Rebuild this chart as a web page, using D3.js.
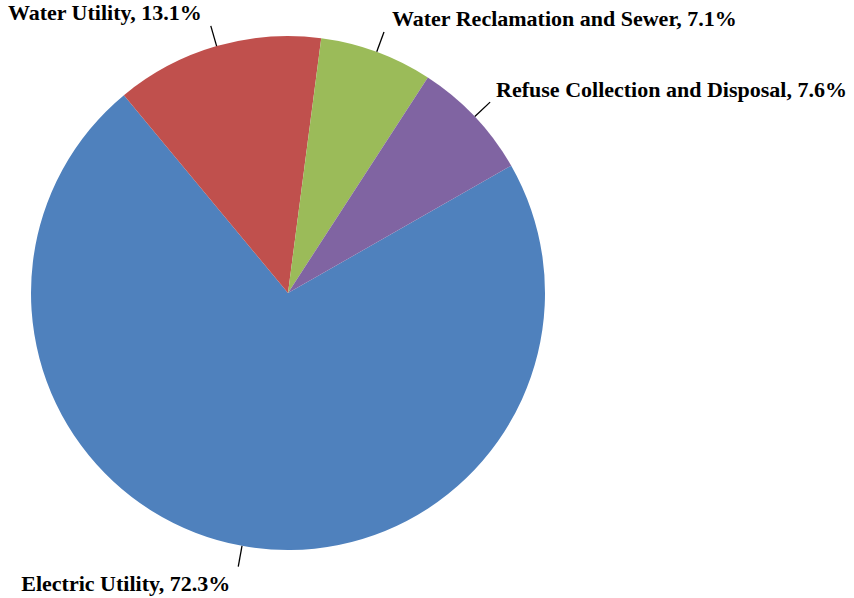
<!DOCTYPE html>
<html><head><meta charset="utf-8">
<script src="https://cdn.jsdelivr.net/npm/d3@7/dist/d3.min.js"></script>
<style>html,body{margin:0;padding:0;background:#fff}</style>
</head><body>
<svg id="chart" width="854" height="598"></svg>
<script>
const categories = ["Electric Utility", "Water Utility", "Water Reclamation and Sewer", "Refuse Collection and Disposal"];
const values = [72.3, 13.1, 7.1, 7.6];
const colors = ["#4F81BD", "#C0504D", "#9BBB59", "#8064A2"];
const labelText = ["Electric Utility, 72.3%", "Water Utility, 13.1%", "Water Reclamation and Sewer, 7.1%", "Refuse Collection and Disposal, 7.6%"];

const svg = d3.select("#chart");
const cx = 288, cy = 293, R = 257, Rl = 278;
const g = svg.append("g").attr("transform", `translate(${cx},${cy})`);

const start = 60.3 * Math.PI / 180;
const pie = d3.pie().sort(null).value(d => d).startAngle(start).endAngle(start + 2 * Math.PI);
const arcs = pie(values);
const arc = d3.arc().innerRadius(0).outerRadius(R);

g.selectAll("path.slice").data(arcs).enter().append("path")
  .attr("class", "slice")
  .attr("d", arc)
  .attr("fill", (d, i) => colors[i]);

const pt = (a, r) => [r * Math.sin(a), -r * Math.cos(a)];
const offsets = [[-8, 24, "end"], [-9, -6, "end"], [8, -6, "start"], [6, -5, "start"]];

arcs.forEach((d, i) => {
  const a = (d.startAngle + d.endAngle) / 2;
  const p0 = pt(a, R), p1 = pt(a, Rl);
  g.append("line").attr("x1", p0[0]).attr("y1", p0[1]).attr("x2", p1[0]).attr("y2", p1[1])
    .attr("stroke", "#000").attr("stroke-width", 1.3);
  const o = offsets[i];
  g.append("text").attr("x", p1[0] + o[0]).attr("y", p1[1] + o[1])
    .attr("text-anchor", o[2])
    .attr("font-family", "'Liberation Serif', 'Times New Roman', serif")
    .attr("font-weight", "bold").attr("font-size", "22px").attr("fill", "#000")
    .text(labelText[i]);
});
</script>
</body></html>
